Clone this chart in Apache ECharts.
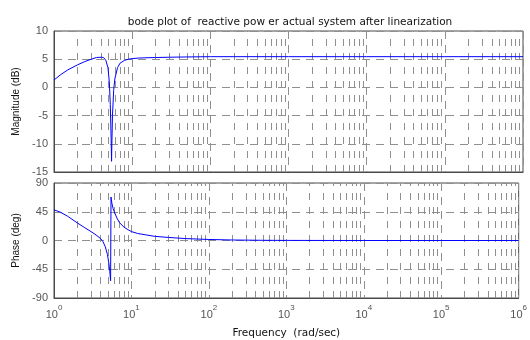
<!DOCTYPE html>
<html>
<head>
<meta charset="utf-8">
<script src="https://cdn.jsdelivr.net/npm/echarts@6/dist/echarts.min.js"></script>
<style>
  html, body { margin: 0; padding: 0; background: #fff; }
  #chart { width: 530px; height: 340px; }
</style>
</head>
<body>
<div id="chart"></div>
<script>
// frequency points (rad/sec) shared by both plots
const freq = [1, 1.2, 1.5, 2, 2.5, 3, 3.5, 4, 4.3, 4.6, 4.9, 5.1, 5.25, 5.38, 5.45, 5.5, 5.6, 5.8, 6, 6.5,
  7, 8, 9, 10, 12, 15, 20, 30, 50, 100, 200, 500, 1e3, 1e4, 1e5, 1e6];
// magnitude in dB
const magnitude = [1.3, 2.2, 3.1, 4.0, 4.6, 5.0, 5.3, 5.35, 5.3, 4.8, 3.5, 1.0, -3, -9, -13.1, -10, -5, -0.5, 1.5, 3.5,
  4.3, 4.8, 5.0, 5.1, 5.2, 5.25, 5.3, 5.35, 5.4, 5.45, 5.45, 5.45, 5.45, 5.45, 5.45, 5.45];
// phase in degrees
const phase = [48, 44.5, 38, 27.5, 20, 14, 8.5, 3, -2, -10, -22, -35, -48, -63, 68, 64, 58, 50, 45, 35,
  28, 21, 17, 14, 11, 9, 6.5, 4.8, 3, 1.6, 0.8, 0.3, 0.15, 0, 0, 0];
const magTicks = [-15, 10, 5];   // min, max, step
const phaseTicks = [-90, 90, 45];
const decades = [0, 1, 2, 3, 4, 5];

// minor log grid lines 2..9 x 10^k
const minorLines = [];
decades.forEach(function (d) {
  for (let m = 2; m <= 9; m++) minorLines.push({ xAxis: m * Math.pow(10, d) });
});

const gridColor = '#8f8f8f';
const boxColor = '#4a4a4a';
const labelColor = '#555';
const font = 'Liberation Sans';
const wideFont = 'DejaVu Sans';

function xAxisFor(idx, showLabels) {
  return {
    type: 'log',
    logBase: 10,
    gridIndex: idx,
    min: 1,
    max: 1e6,
    interval: 1,
    axisLine: { show: true, onZero: false, lineStyle: { color: boxColor } },
    axisTick: { show: false },
    splitLine: { show: true, lineStyle: { color: gridColor, type: [8, 6], width: 1 } },
    axisLabel: showLabels ? {
      color: labelColor,
      margin: 6,
      formatter: function (v) {
        return '{b|10}{s|' + Math.round(Math.log10(v)) + '}';
      },
      rich: {
        b: { fontSize: 11, fontFamily: font, color: labelColor, lineHeight: 16, verticalAlign: 'bottom' },
        s: { fontSize: 8, fontFamily: font, color: labelColor, verticalAlign: 'top', lineHeight: 16 }
      }
    } : { show: false },
    name: showLabels ? 'Frequency  (rad/sec)' : '',
    nameLocation: 'middle',
    nameGap: 30,
    nameTextStyle: { fontSize: 10.5, fontFamily: wideFont, color: '#111' }
  };
}

function yAxisFor(idx, ticks, name) {
  return {
    type: 'value',
    gridIndex: idx,
    min: ticks[0],
    max: ticks[1],
    interval: ticks[2],
    axisLine: { show: true, onZero: false, lineStyle: { color: boxColor } },
    axisTick: { show: false },
    splitLine: { show: true, lineStyle: { color: gridColor, type: [8, 6], width: 1 } },
    axisLabel: { color: labelColor, fontSize: 11, fontFamily: font, margin: 6 },
    name: name,
    nameLocation: 'middle',
    nameGap: 33,
    nameTextStyle: { fontSize: 10, fontFamily: font, color: '#111' }
  };
}

function minorSeries(idx) {
  return {
    type: 'line',
    xAxisIndex: idx,
    yAxisIndex: idx,
    data: [],
    silent: true,
    z: 1,
    markLine: {
      silent: true,
      symbol: 'none',
      label: { show: false },
      animation: false,
      lineStyle: { color: gridColor, type: [7, 7], width: 1 },
      data: minorLines
    }
  };
}

const chart = echarts.init(document.getElementById('chart'), null, { renderer: 'canvas' });

const option = {
  animation: false,
  backgroundColor: '#fff',
  title: {
    text: 'bode plot of  reactive pow er actual system after linearization',
    left: 285,
    top: 12,
    textAlign: 'center',
    textStyle: { fontSize: 10.5, fontWeight: 'normal', fontFamily: wideFont, color: '#111' }
  },
  grid: [
    { left: 54, right: 7, top: 31, height: 141, show: true, borderColor: boxColor, borderWidth: 1 },
    { left: 54, right: 7, top: 183, height: 123, show: true, borderColor: boxColor, borderWidth: 1 }
  ],
  xAxis: [xAxisFor(0, false), xAxisFor(1, true)],
  yAxis: [
    yAxisFor(0, magTicks, 'Magnitude (dB)'),
    yAxisFor(1, phaseTicks, 'Phase (deg)')
  ],
  series: [
    minorSeries(0),
    minorSeries(1),
    {
      name: 'Magnitude',
      type: 'line',
      xAxisIndex: 0,
      yAxisIndex: 0,
      z: 5,
      showSymbol: false,
      smooth: false,
      lineStyle: { color: '#0000ff', width: 1 },
      data: freq.map(function (f, i) { return [f, magnitude[i]]; })
    },
    {
      name: 'Phase',
      type: 'line',
      xAxisIndex: 1,
      yAxisIndex: 1,
      z: 5,
      showSymbol: false,
      smooth: false,
      lineStyle: { color: '#0000ff', width: 1 },
      data: freq.map(function (f, i) { return [f, phase[i]]; })
    }
  ]
};

chart.setOption(option);
</script>
</body>
</html>
